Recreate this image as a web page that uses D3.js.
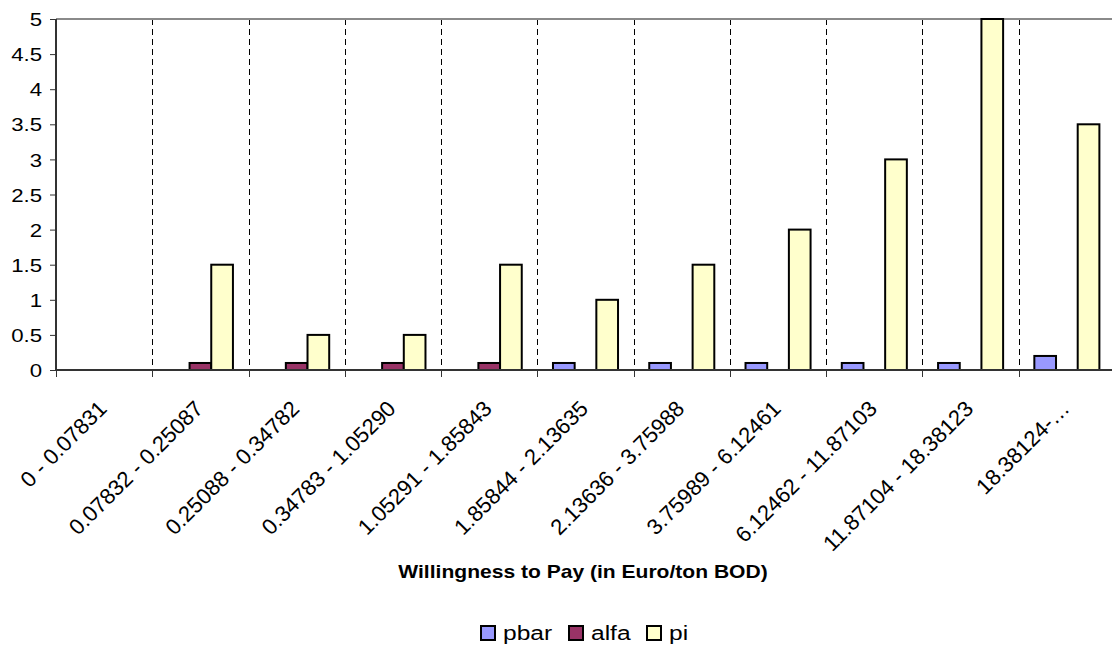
<!DOCTYPE html>
<html>
<head>
<meta charset="utf-8">
<script src="https://cdn.jsdelivr.net/npm/d3@7"></script>
<style>
  html, body { margin: 0; padding: 0; background: #fff; }
  svg { display: block; font-family: Arial, "Liberation Sans", sans-serif; }
</style>
</head>
<body>
<svg id="chart" width="1112" height="645"></svg>
<script>
const categories = ["0 - 0.07831", "0.07832 - 0.25087", "0.25088 - 0.34782", "0.34783 - 1.05290",
  "1.05291 - 1.85843", "1.85844 - 2.13635", "2.13636 - 3.75988", "3.75989 - 6.12461",
  "6.12462 - 11.87103", "11.87104 - 18.38123", "18.38124-\u2026"];
const seriesNames = ["pbar", "alfa", "pi"];
const pbar = [0, 0, 0, 0, 0, 0.1, 0.1, 0.1, 0.1, 0.1, 0.2];
const alfa = [0, 0.1, 0.1, 0.1, 0.1, 0, 0, 0, 0, 0, 0];
const pi   = [0, 1.5, 0.5, 0.5, 1.5, 1, 1.5, 2, 3, 5, 3.5];
const yTicks = [0, 0.5, 1, 1.5, 2, 2.5, 3, 3.5, 4, 4.5, 5];
const colors = ["#9999FF", "#993366", "#FFFFCC"];
const xTitle = "Willingness to Pay (in Euro/ton BOD)";

const seriesValues = [pbar, alfa, pi];
const svg = d3.select("#chart");
const pLeft = 56, pRight = 1115, pTop = 19, pBottom = 370;
const SX = 1.17;

const x0 = d3.scaleBand().domain(categories).range([pLeft, pRight]).paddingInner(0).paddingOuter(0);
const x1 = d3.scaleBand().domain(seriesNames).range([0, x0.bandwidth()]).paddingInner(0).paddingOuter(0.72);
const y = d3.scaleLinear().domain([0, 5]).range([pBottom, pTop]);
const color = d3.scaleOrdinal().domain(seriesNames).range(colors);

// dashed vertical gridlines at category boundaries
svg.append("g").selectAll("line")
  .data(categories.slice(1))
  .join("line")
  .attr("x1", d => Math.round(x0(d)) + 0.5).attr("x2", d => Math.round(x0(d)) + 0.5)
  .attr("y1", pTop).attr("y2", pBottom)
  .attr("stroke", "#000").attr("stroke-width", 1).attr("stroke-dasharray", "6,4");

// top border
svg.append("line").attr("x1", pLeft).attr("x2", 1112).attr("y1", pTop).attr("y2", pTop)
  .attr("stroke", "#8a8a8a").attr("stroke-width", 2);

// bars
const rows = [];
categories.forEach((c, i) => seriesNames.forEach((s, j) => {
  if (seriesValues[j][i] > 0) rows.push({ c, s, v: seriesValues[j][i] });
}));
svg.append("g").selectAll("rect")
  .data(rows)
  .join("rect")
  .attr("x", d => x0(d.c) + x1(d.s))
  .attr("width", x1.bandwidth())
  .attr("y", d => y(d.v))
  .attr("height", d => y(0) - y(d.v))
  .attr("fill", d => color(d.s))
  .attr("stroke", "#000").attr("stroke-width", 2);

// y axis
const yAxis = svg.append("g").attr("transform", `translate(${pLeft},0)`)
  .call(d3.axisLeft(y).tickValues(yTicks).tickSize(6).tickPadding(0).tickFormat(d => String(d)));
yAxis.select(".domain").attr("stroke", "#333").attr("stroke-width", 2).attr("d", `M0,${pTop}V${pBottom}`);
yAxis.selectAll(".tick line").attr("stroke", "#333");
yAxis.selectAll(".tick text")
  .attr("font-size", 19).attr("fill", "#000").attr("font-family", "Arial, 'Liberation Sans', sans-serif")
  .attr("x", null).attr("dy", "0.35em").attr("text-anchor", "end")
  .attr("transform", `translate(-14,0) scale(${SX},1)`);

// x axis line and ticks at boundaries
svg.append("line").attr("x1", pLeft).attr("x2", 1112).attr("y1", pBottom).attr("y2", pBottom)
  .attr("stroke", "#333").attr("stroke-width", 2);
svg.append("g").selectAll("line")
  .data(categories)
  .join("line")
  .attr("x1", d => Math.round(x0(d)) + 0.5).attr("x2", d => Math.round(x0(d)) + 0.5)
  .attr("y1", pBottom).attr("y2", pBottom + 7)
  .attr("stroke", "#333").attr("stroke-width", 1);

// x labels
svg.append("g").selectAll("text")
  .data(categories)
  .join("text")
  .attr("transform", d => `translate(${x0(d) + x0.bandwidth() / 2 + 4},${pBottom + 40}) rotate(-45)`)
  .attr("text-anchor", "end")
  .attr("font-size", 22)
  .attr("fill", "#000")
  .text(d => d);

// x title
svg.append("text")
  .attr("transform", `translate(583,578) scale(${SX},1)`)
  .attr("text-anchor", "middle")
  .attr("font-size", 18).attr("font-weight", "bold").attr("fill", "#000")
  .text(xTitle);

// legend
const legendX = [480, 568, 646];
const lg = svg.append("g").selectAll("g").data(seriesNames).join("g")
  .attr("transform", (d, i) => `translate(${legendX[i]},625)`);
lg.append("rect").attr("x", 1).attr("y", 1).attr("width", 14).attr("height", 14)
  .attr("fill", d => color(d)).attr("stroke", "#000").attr("stroke-width", 2);
lg.append("text").attr("transform", `translate(23,15) scale(${SX},1)`)
  .attr("font-size", 21).attr("fill", "#000").text(d => d);
</script>
</body>
</html>
